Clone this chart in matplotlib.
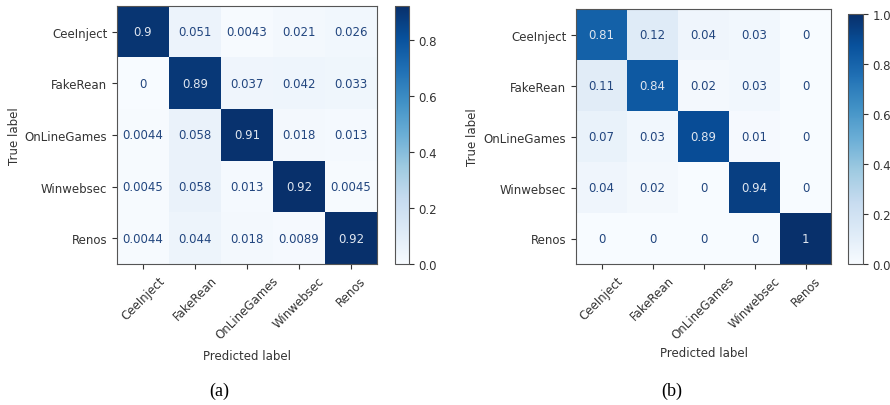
import numpy as np
import matplotlib.pyplot as plt

classes = ['CeeInject', 'FakeRean', 'OnLineGames', 'Winwebsec', 'Renos']

# row-normalised confusion matrices
cm_a = np.array([
    [0.9, 0.051, 0.0043, 0.021, 0.026],
    [0, 0.89, 0.037, 0.042, 0.033],
    [0.0044, 0.058, 0.91, 0.018, 0.013],
    [0.0045, 0.058, 0.013, 0.92, 0.0045],
    [0.0044, 0.044, 0.018, 0.0089, 0.92],
])
cm_b = np.array([
    [0.81, 0.12, 0.04, 0.03, 0],
    [0.11, 0.84, 0.02, 0.03, 0],
    [0.07, 0.03, 0.89, 0.01, 0],
    [0.04, 0.02, 0, 0.94, 0],
    [0, 0, 0, 0, 1],
])
captions = ['(a)', '(b)']

W, H = 890, 406
fig = plt.figure(figsize=(W / 100, H / 100), dpi=100)
FS = 8.5


def px(x0, y0, x1, y1):
    # pixel box (top-left origin) -> figure fraction
    return [x0 / W, 1 - y1 / H, (x1 - x0) / W, (y1 - y0) / H]


def draw_cm(cm, ax_box, cb_box, ylab_x, xlab_y, cap_x):
    ax = fig.add_axes(px(*ax_box))
    cax = fig.add_axes(px(*cb_box))
    cmap = plt.get_cmap('Blues')
    im = ax.imshow(cm, cmap=cmap, aspect='auto', vmin=cm.min(), vmax=cm.max())
    thresh = (cm.max() + cm.min()) / 2
    for i in range(cm.shape[0]):
        for j in range(cm.shape[1]):
            col = '#dfe6f0' if cm[i, j] > thresh else '#22467f'
            ax.text(j, i, format(cm[i, j], '.2g'), ha='center', va='center',
                    color=col, fontsize=FS)
    ax.set_xticks(range(len(classes)))
    ax.set_yticks(range(len(classes)))
    ax.set_xticklabels(classes, rotation=45)
    ax.set_yticklabels(classes)
    ax.tick_params(labelsize=FS, colors='#333333', length=3.5, width=0.8)
    for s in ax.spines.values():
        s.set_color('#555555')
    ax.set_xlabel('Predicted label', fontsize=FS, color='#333333')
    ax.set_ylabel('True label', fontsize=FS, color='#333333')
    bw, bh = ax_box[2] - ax_box[0], ax_box[3] - ax_box[1]
    ax.yaxis.set_label_coords((ylab_x - ax_box[0]) / bw, 0.5)
    ax.xaxis.set_label_coords(0.5, (ax_box[3] - xlab_y) / bh)

    cb = fig.colorbar(im, cax=cax)
    cb.set_ticks(np.arange(0, cm.max() + 0.01, 0.2))
    cb.ax.tick_params(labelsize=FS, colors='#333333', length=3.5, width=0.8)
    cb.outline.set_edgecolor('#555555')

    fig.text(cap_x / W, 1 - 391 / H, captions.pop(0), ha='center', va='center',
             fontsize=13, family='Liberation Serif')


draw_cm(cm_a, (117, 7, 377, 265), (395, 7, 409, 265), 21, 350, 219)
draw_cm(cm_b, (576, 10, 831, 265), (848, 15, 863, 265), 479, 347, 672)

fig.savefig('out.png', dpi=100)
